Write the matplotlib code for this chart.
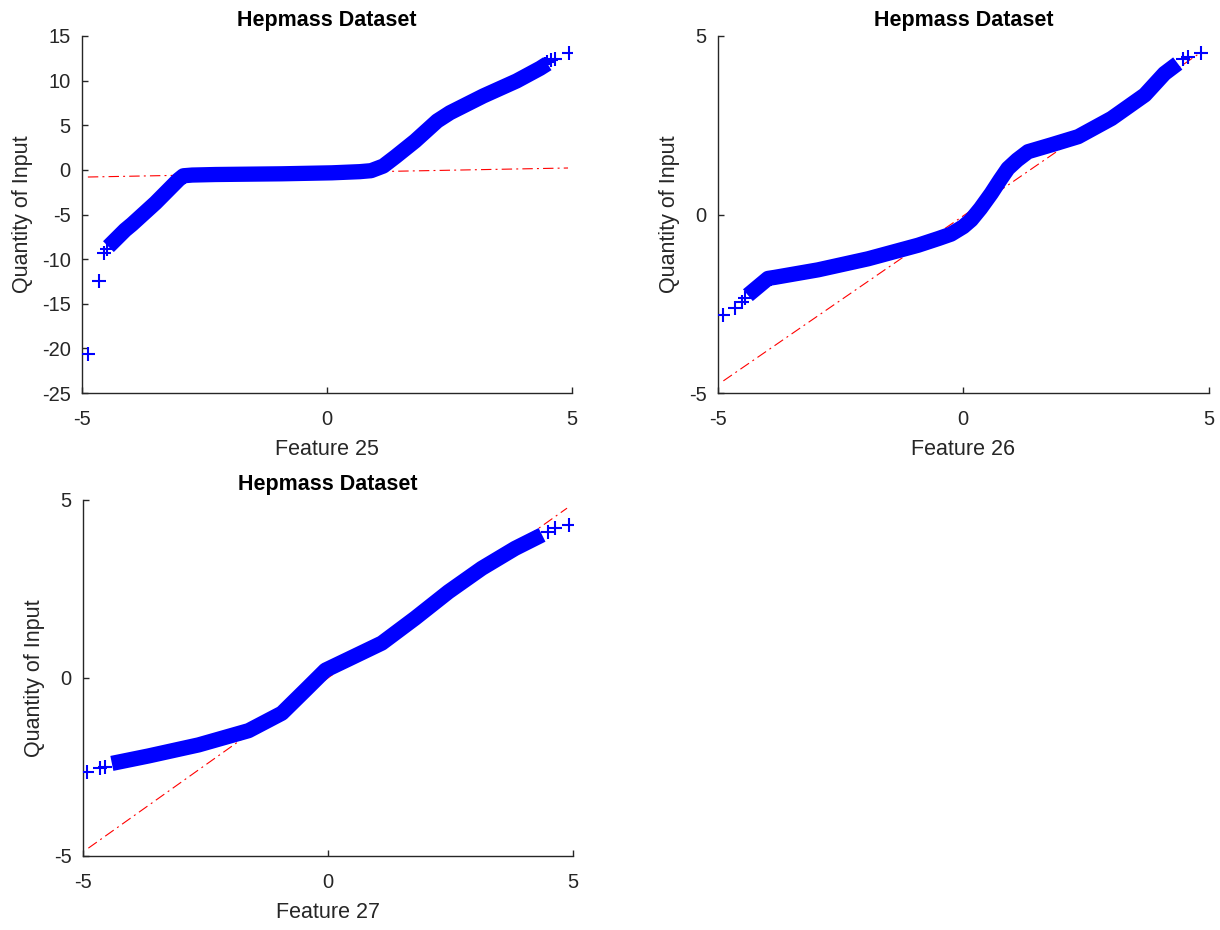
"""
QQ plots for three Hepmass features (25, 26, 27) against standard normal quantiles.
Dense sample quantiles are drawn as a thick band, tail samples as '+' markers,
and the quartile reference line as a red dash-dot line.
"""
from __future__ import annotations

import matplotlib

matplotlib.use("Agg")
import matplotlib.pyplot as plt

FONT = ["Liberation Sans", "DejaVu Sans"]
TEXT_COLOR = "#262626"

# Feature 25
F25_BAND_X = [-4.46, -4.12, -3.98, -3.5, -3.03, -2.93, -2.75, -2.28, -0.92, 0.10, 0.67, 0.90,
              1.15, 1.40, 1.80, 2.25, 2.51, 3.19, 3.87, 4.35, 4.50]
F25_BAND_Y = [-8.6, -6.74, -6.1, -3.7, -1.1, -0.66, -0.58, -0.52, -0.44, -0.33, -0.2, -0.09,
              0.43, 1.48, 3.24, 5.48, 6.4, 8.28, 9.96, 11.38, 11.9]
F25_TAIL_X = [-4.88, -4.66, -4.55, -4.49, 4.46, 4.50, 4.58, 4.65, 4.93]
F25_TAIL_Y = [-20.63, -12.45, -9.35, -8.9, 11.9, 12.1, 12.3, 12.4, 13.13]
F25_REF_X = [-4.88, 4.92]
F25_REF_Y = [-0.80, 0.21]

# Feature 26
F26_BAND_X = [-4.39, -3.98, -3.84, -2.96, -1.94, -0.92, -0.50, -0.25, 0.0, 0.16, 0.35, 0.57,
              0.75, 0.91, 1.10, 1.32, 1.79, 2.34, 3.02, 3.70, 4.10, 4.37]
F26_BAND_Y = [-2.26, -1.79, -1.76, -1.55, -1.24, -0.86, -0.67, -0.55, -0.34, -0.15, 0.17, 0.59,
              0.97, 1.29, 1.53, 1.76, 1.95, 2.18, 2.69, 3.35, 3.95, 4.23]
F26_TAIL_X = [-4.90, -4.66, -4.52, -4.45, 4.48, 4.58, 4.85]
F26_TAIL_Y = [-2.82, -2.63, -2.44, -2.35, 4.35, 4.42, 4.51]
F26_REF_X = [-4.89, 4.82]
F26_REF_Y = [-4.66, 4.52]

# Feature 27
F27_BAND_X = [-4.41, -3.66, -2.64, -1.62, -0.94, -0.46, -0.05, 0.42, 1.10, 1.78, 2.46, 3.14,
              3.82, 4.37]
F27_BAND_Y = [-2.40, -2.19, -1.88, -1.48, -0.99, -0.34, 0.22, 0.53, 0.98, 1.68, 2.42, 3.08,
              3.64, 4.02]
F27_TAIL_X = [-4.92, -4.65, -4.55, 4.50, 4.64, 4.91]
F27_TAIL_Y = [-2.63, -2.54, -2.50, 4.10, 4.20, 4.30]
F27_REF_X = [-4.89, 4.88]
F27_REF_Y = [-4.78, 4.77]

X_TICKS = [-5, 0, 5]
Y_TICKS_WIDE = [-25, -20, -15, -10, -5, 0, 5, 10, 15]
Y_TICKS_NARROW = [-5, 0, 5]


def draw_qq(ax, band_x, band_y, tail_x, tail_y, ref_x, ref_y, feature, yticks, ylabel_x):
    ax.plot(ref_x, ref_y, color="red", lw=0.8, dashes=(7.5, 3.0, 1.4, 3.0), zorder=2)
    ax.plot(band_x, band_y, color="blue", lw=11, solid_joinstyle="round",
            solid_capstyle="butt", zorder=3)
    ax.plot(tail_x, tail_y, ls="none", marker="+", ms=9.8, mew=1.5, color="blue", zorder=3)

    ax.set_xlim(-5, 5)
    ax.set_ylim(yticks[0], yticks[-1])
    ax.set_xticks(X_TICKS)
    ax.set_yticks(yticks)
    for side in ("top", "right"):
        ax.spines[side].set_visible(False)
    for side in ("left", "bottom"):
        ax.spines[side].set_color(TEXT_COLOR)
        ax.spines[side].set_linewidth(1.0)
    ax.tick_params(axis="both", direction="in", length=4.5, width=1.0, color=TEXT_COLOR,
                   labelcolor=TEXT_COLOR, labelsize=14.5)
    ax.tick_params(axis="x", pad=12.5)
    ax.tick_params(axis="y", pad=8)
    for lab in ax.get_xticklabels() + ax.get_yticklabels():
        lab.set_family(FONT)

    ax.set_title("Hepmass Dataset", fontsize=15.5, fontweight="bold", family=FONT,
                 color="black", pad=7.4)
    ax.set_xlabel(f"Feature {feature}", fontsize=15.5, family=FONT, color=TEXT_COLOR)
    ax.set_ylabel("Quantity of Input", fontsize=15.5, family=FONT, color=TEXT_COLOR)
    ax.xaxis.set_label_coords(0.5, -0.128)
    ax.yaxis.set_label_coords(ylabel_x, 0.5)


def main() -> None:
    plt.rcParams["lines.scale_dashes"] = False
    plt.rcParams["axes.unicode_minus"] = False
    fig = plt.figure(figsize=(12.2, 9.3), dpi=100)

    ax1 = fig.add_axes([0.0672, 0.5774, 0.4016, 0.3839])
    ax2 = fig.add_axes([0.5885, 0.5774, 0.4022, 0.3839])
    ax3 = fig.add_axes([0.0680, 0.0796, 0.4016, 0.3828])

    draw_qq(ax1, F25_BAND_X, F25_BAND_Y, F25_TAIL_X, F25_TAIL_Y, F25_REF_X, F25_REF_Y,
            25, Y_TICKS_WIDE, -0.099)
    draw_qq(ax2, F26_BAND_X, F26_BAND_Y, F26_TAIL_X, F26_TAIL_Y, F26_REF_X, F26_REF_Y,
            26, Y_TICKS_NARROW, -0.078)
    draw_qq(ax3, F27_BAND_X, F27_BAND_Y, F27_TAIL_X, F27_TAIL_Y, F27_REF_X, F27_REF_Y,
            27, Y_TICKS_NARROW, -0.078)

    fig.savefig("out.png", dpi=100)


if __name__ == "__main__":
    main()
